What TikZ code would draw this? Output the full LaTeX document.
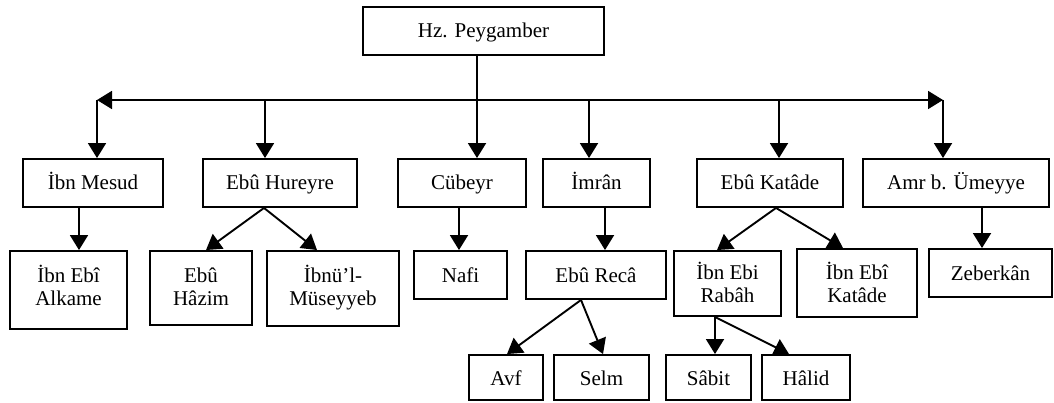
\documentclass[tikz,border=0pt]{standalone}
\usepackage{fontspec}
\setmainfont{Liberation Serif}
\usetikzlibrary{arrows.meta,calc}
\begin{document}
\begin{tikzpicture}[x=1pt,y=-1pt,
  box/.style={draw,line width=1.9pt,rectangle,inner sep=0pt,align=center,
    font=\fontsize{21}{23}\selectfont,text height=15pt},
  twoline/.style={text height=38pt},
  arr/.style={line width=1.9pt,-{Triangle[length=15pt,width=18pt]}},
  bararr/.style={line width=1.9pt,{Triangle[length=15pt,width=18pt]}-{Triangle[length=15pt,width=18pt]}}]
\useasboundingbox (0,0) rectangle (1054,403);
% level 0
\node[box,minimum width=241pt,minimum height=48pt,text depth=1pt] (hz) at (483.5,31) {Hz. Peygamber};
% level 1
\node[box,minimum width=140pt,minimum height=48pt,text depth=1pt] (mesud) at (93,183) {İbn Mesud};
\node[box,minimum width=154pt,minimum height=48pt,text depth=1pt] (hureyre) at (280,183) {Ebû Hureyre};
\node[box,minimum width=128pt,minimum height=48pt,text depth=1pt] (cubeyr) at (462,183) {Cübeyr};
\node[box,minimum width=107pt,minimum height=48pt,text depth=1pt] (imran) at (596.5,183) {İmrân};
\node[box,minimum width=146pt,minimum height=48pt,text depth=1pt] (katade) at (770,183) {Ebû Katâde};
\node[box,minimum width=186pt,minimum height=48pt,text depth=1pt] (amr) at (956,183) {Amr b. Ümeyye};
% level 2
\node[box,twoline,minimum width=117pt,minimum height=78pt,text depth=8pt] (alkame) at (68.5,290) {İbn Ebî\\Alkame};
\node[box,twoline,minimum width=102pt,minimum height=74pt,text depth=4pt] (hazim) at (201,288) {Ebû\\Hâzim};
\node[box,twoline,minimum width=132pt,minimum height=75pt,text depth=5pt] (museyyeb) at (333,288.5) {İbnü’l-\\Müseyyeb};
\node[box,minimum width=93pt,minimum height=48pt,text depth=1pt] (nafi) at (460.5,275) {Nafi};
\node[box,minimum width=140pt,minimum height=48pt,text depth=1pt] (reca) at (596,275) {Ebû Recâ};
\node[box,twoline,minimum width=107pt,minimum height=65pt,text depth=-5pt] (rabah) at (727.5,283.5) {İbn Ebi\\Rabâh};
\node[box,twoline,minimum width=120pt,minimum height=68pt,text depth=-2pt] (ikatade) at (857,283) {İbn Ebî\\Katâde};
\node[box,minimum width=123pt,minimum height=48pt,text depth=1pt] (zeberkan) at (990.5,273) {Zeberkân};
% level 3
\node[box,minimum width=74pt,minimum height=45pt,text depth=0pt] (avf) at (506,377.5) {Avf};
\node[box,minimum width=95pt,minimum height=45pt,text depth=0pt] (selm) at (601.5,377.5) {Selm};
\node[box,minimum width=85pt,minimum height=45pt,text depth=0pt] (sabit) at (708.5,377.5) {Sâbit};
\node[box,minimum width=88pt,minimum height=45pt,text depth=0pt] (halid) at (806,377.5) {Hâlid};
% bar
\coordinate (barL) at (97,100);
\coordinate (barR) at (943,100);
\coordinate (bj) at (477,100);
\coordinate (bh) at (265,100);
\coordinate (bi) at (589,100);
\coordinate (bk) at (779,100);
\draw[bararr] (barL) -- (barR);
\draw[arr] (hz.south -| bj) -- (bj |- cubeyr.north);
\draw[arr] (barL) -- (barL |- mesud.north);
\draw[arr] (bh) -- (bh |- hureyre.north);
\draw[arr] (bi) -- (bi |- imran.north);
\draw[arr] (bk) -- (bk |- katade.north);
\draw[arr] (barR) -- (barR |- amr.north);
% vertical children
\coordinate (v1) at (79,0);
\coordinate (v2) at (459,0);
\coordinate (v3) at (605,0);
\coordinate (v4) at (982,0);
\draw[arr] (mesud.south -| v1) -- (alkame.north -| v1);
\draw[arr] (cubeyr.south -| v2) -- (nafi.north -| v2);
\draw[arr] (imran.south -| v3) -- (reca.north -| v3);
\draw[arr] (amr.south -| v4) -- (zeberkan.north -| v4);
% diagonal children
\draw[arr] ([xshift=-16pt]hureyre.south) -- ([xshift=5pt]hazim.north);
\draw[arr] ([xshift=-16pt]hureyre.south) -- ([xshift=-16pt]museyyeb.north);
\draw[arr] ([xshift=6pt]katade.south) -- ([xshift=-10.5pt]rabah.north);
\draw[arr] ([xshift=6pt]katade.south) -- ([xshift=-14pt]ikatade.north);
\draw[arr] ([xshift=-15pt]reca.south) -- ([xshift=1pt]avf.north);
\draw[arr] ([xshift=-15pt]reca.south) -- ([xshift=1.5pt]selm.north);
\draw[arr] ([xshift=-12.5pt]rabah.south) -- ([xshift=6.5pt]sabit.north);
\draw[arr] ([xshift=-12.5pt]rabah.south) -- ([xshift=-17pt]halid.north);
\end{tikzpicture}
\end{document}
